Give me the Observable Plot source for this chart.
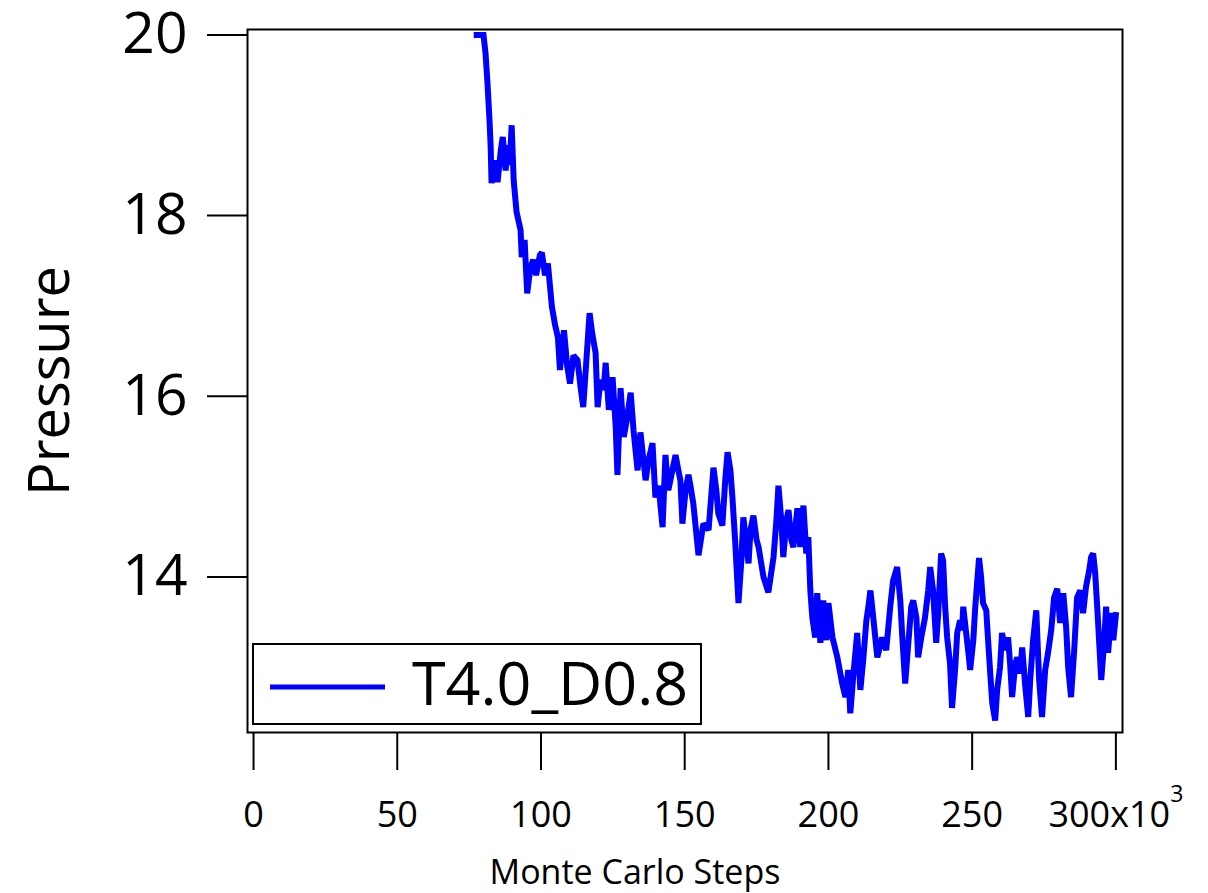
<!DOCTYPE html>
<html><head><meta charset="utf-8">
<script src="https://cdn.jsdelivr.net/npm/d3@7"></script>
<script src="https://cdn.jsdelivr.net/npm/@observablehq/plot@0.6"></script>
<style>
body{margin:0;background:#fff;}
#wrap{position:relative;width:1208px;height:893px;font-family:"Open Sans",sans-serif;}
#legend{position:absolute;left:252px;top:643px;width:450px;height:82px;box-sizing:border-box;border:2px solid #000;background:#fff;}
#legend svg{position:absolute;left:0;top:-24px;overflow:visible;}
</style></head><body><div id="wrap"></div>
<script>
// Monte Carlo steps (x10^3)
const steps = [
76.6, 80.0, 80.7, 81.4, 82.1, 82.5, 82.8, 83.9, 84.9, 86.0,
86.7, 87.7, 88.4, 89.1, 89.8, 90.5, 91.5, 92.9, 93.3, 94.3,
95.2, 96.3, 97.3, 98.3, 99.6, 100.3, 101.4, 102.4, 103.8, 104.9,
105.9, 106.6, 108.0, 109.1, 110.1, 111.3, 112.7, 113.7, 114.7, 115.8,
116.9, 117.9, 119.0, 119.7, 120.7, 121.8, 122.5, 123.6, 124.9, 126.0,
126.6, 127.7, 128.8, 129.8, 131.2, 132.2, 133.6, 134.6, 136.4, 137.4,
138.8, 139.8, 140.9, 142.3, 143.3, 144.3, 145.0, 146.8, 147.8, 148.5,
149.2, 150.3, 151.3, 152.0, 153.0, 154.8, 156.5, 158.3, 160.0, 161.0,
161.7, 163.1, 164.1, 164.9, 165.9, 166.6, 167.6, 168.7, 169.7, 170.4,
171.5, 172.2, 172.9, 173.9, 175.0, 175.7, 177.4, 179.1, 180.9, 181.9,
182.6, 183.6, 184.3, 185.4, 186.1, 187.1, 187.8, 189.2, 190.2, 191.3,
192.3, 193.0, 193.7, 194.4, 195.4, 196.1, 197.2, 198.2, 199.3, 200.0,
201.4, 203.1, 204.8, 205.9, 206.9, 207.6, 208.6, 210.0, 211.1, 212.1,
213.2, 213.9, 214.6, 215.6, 217.0, 218.7, 220.1, 221.5, 222.5, 223.9,
225.0, 225.7, 226.7, 227.8, 228.8, 229.5, 230.6, 231.2, 232.3, 233.6,
234.7, 235.4, 236.4, 237.5, 238.2, 239.2, 239.9, 240.6, 241.3, 242.3,
243.0, 244.1, 244.8, 245.8, 246.5, 246.9, 247.9, 248.6, 249.3, 250.4,
251.0, 251.7, 252.4, 253.1, 253.8, 254.9, 255.6, 256.3, 257.0, 258.0,
258.7, 259.7, 260.4, 261.5, 262.5, 263.2, 263.9, 265.0, 265.7, 266.7,
267.4, 268.5, 269.5, 270.2, 271.2, 272.3, 273.3, 274.3, 275.4, 276.4,
277.5, 278.5, 279.6, 280.6, 281.7, 282.7, 283.4, 284.4, 285.5, 286.5,
287.6, 288.6, 289.6, 290.7, 291.4, 292.1, 292.8, 293.5, 294.2, 294.9,
295.9, 296.6, 297.3, 298.4, 299.1, 300.1
];
// Pressure
const pressure = [
20.0, 20.0, 19.80, 19.46, 19.05, 18.76, 18.36, 18.61, 18.37, 18.72,
18.87, 18.50, 18.78, 18.56, 19.00, 18.39, 18.04, 17.84, 17.54, 17.73,
17.14, 17.42, 17.51, 17.34, 17.56, 17.59, 17.34, 17.47, 16.99, 16.79,
16.65, 16.29, 16.73, 16.34, 16.14, 16.45, 16.40, 16.12, 15.88, 16.40,
16.92, 16.68, 16.48, 15.88, 16.18, 16.07, 16.37, 15.85, 16.21, 15.66,
15.13, 16.09, 15.55, 15.73, 16.04, 15.62, 15.18, 15.60, 15.07, 15.29,
15.48, 14.88, 15.01, 14.55, 15.35, 14.96, 15.07, 15.35, 15.18, 15.07,
14.59, 14.96, 15.13, 15.01, 14.81, 14.24, 14.59, 14.52, 15.21, 14.96,
14.70, 14.57, 15.07, 15.38, 15.18, 14.88, 14.37, 13.71, 14.18, 14.66,
14.35, 14.15, 14.52, 14.68, 14.41, 14.33, 14.00, 13.83, 14.22, 14.63,
15.01, 14.63, 14.22, 14.63, 14.74, 14.41, 14.33, 14.76, 14.33, 14.79,
14.26, 14.44, 13.85, 13.55, 13.33, 13.82, 13.27, 13.74, 13.30, 13.71,
13.33, 13.11, 12.82, 12.67, 12.97, 12.49, 12.89, 13.38, 12.75, 13.08,
13.52, 13.67, 13.85, 13.55, 13.11, 13.33, 13.19, 13.67, 13.96, 14.11,
13.74, 13.33, 12.82, 13.27, 13.67, 13.74, 13.55, 13.11, 13.33, 13.55,
13.85, 14.11, 13.85, 13.27, 13.60, 14.26, 14.18, 13.67, 13.33, 13.04,
12.55, 12.99, 13.38, 13.52, 13.41, 13.67, 13.38, 13.19, 12.97, 13.30,
13.63, 13.93, 14.21, 14.00, 13.71, 13.63, 13.27, 12.93, 12.60, 12.41,
12.75, 13.00, 13.38, 13.19, 13.33, 13.04, 12.67, 13.04, 13.11, 12.93,
13.22, 12.78, 12.45, 12.86, 13.30, 13.63, 12.86, 12.45, 12.97, 13.16,
13.41, 13.77, 13.87, 13.49, 13.82, 13.44, 13.00, 12.67, 13.19, 13.77,
13.85, 13.60, 13.89, 14.07, 14.22, 14.26, 14.04, 13.67, 13.27, 12.86,
13.27, 13.67, 13.16, 13.60, 13.30, 13.61
];
const xTicks = [0, 50, 100, 150, 200, 250, 300];
const yTicks = [14, 16, 18, 20];
const seriesName = "T4.0_D0.8";
const xLabel = "Monte Carlo Steps";
const yLabel = "Pressure";
const lineColor = "#0000ff";

const data = steps.map((s, i) => ({step: s, pressure: pressure[i]}));
const font = '"Open Sans", sans-serif';

const chart = Plot.plot({
  width: 1208, height: 893,
  marginLeft: 247, marginRight: 86, marginTop: 29, marginBottom: 161,
  style: {fontFamily: font, background: "white", color: "black"},
  x: {domain: [-2.1, 302.3]},
  y: {domain: [12.278, 20.06]},
  marks: [
    Plot.line(data, {x: "step", y: "pressure", stroke: lineColor, strokeWidth: 6, strokeLinejoin: "miter", strokeMiterlimit: 2, strokeLinecap: "butt"}),
    Plot.frame({stroke: "black", strokeWidth: 2}),
    Plot.axisY({ticks: yTicks, tickSize: 40, tickPadding: 20, fontSize: 57, strokeWidth: 2, label: null}),
    Plot.axisY({ticks: [], tickSize: 0, fontSize: 56, label: yLabel, labelAnchor: "center", labelArrow: "none", labelOffset: 218}),
    Plot.axisX({ticks: xTicks, tickSize: 38, tickPadding: 31, fontSize: 36, strokeWidth: 2, label: null,
      tickFormat: d => d === 300 ? "300x10" : String(d)}),
    Plot.text([xLabel], {text: d => d, frameAnchor: "bottom", lineAnchor: "bottom", dx: -50, dy: 151, fontSize: 34})
  ]
});

// superscript exponent on the last tick label
chart.querySelectorAll('g[aria-label="x-axis tick label"] text').forEach(t => {
  if (t.textContent === "300x10") {
    const ts = document.createElementNS("http://www.w3.org/2000/svg", "tspan");
    ts.setAttribute("dy", "-25");
    ts.setAttribute("font-size", "23");
    ts.textContent = "3";
    t.appendChild(ts);
  }
});

const wrap = document.getElementById("wrap");
wrap.appendChild(chart);

const legend = document.createElement("div");
legend.id = "legend";
legend.innerHTML = `<svg width="446" height="126" xmlns="http://www.w3.org/2000/svg">
  <line x1="16" x2="131" y1="66" y2="66" stroke="${lineColor}" stroke-width="5"/>
  <text x="158" y="84" font-size="61" font-family='${font}' fill="black">${seriesName}</text>
</svg>`;
wrap.appendChild(legend);
</script>
</body></html>
